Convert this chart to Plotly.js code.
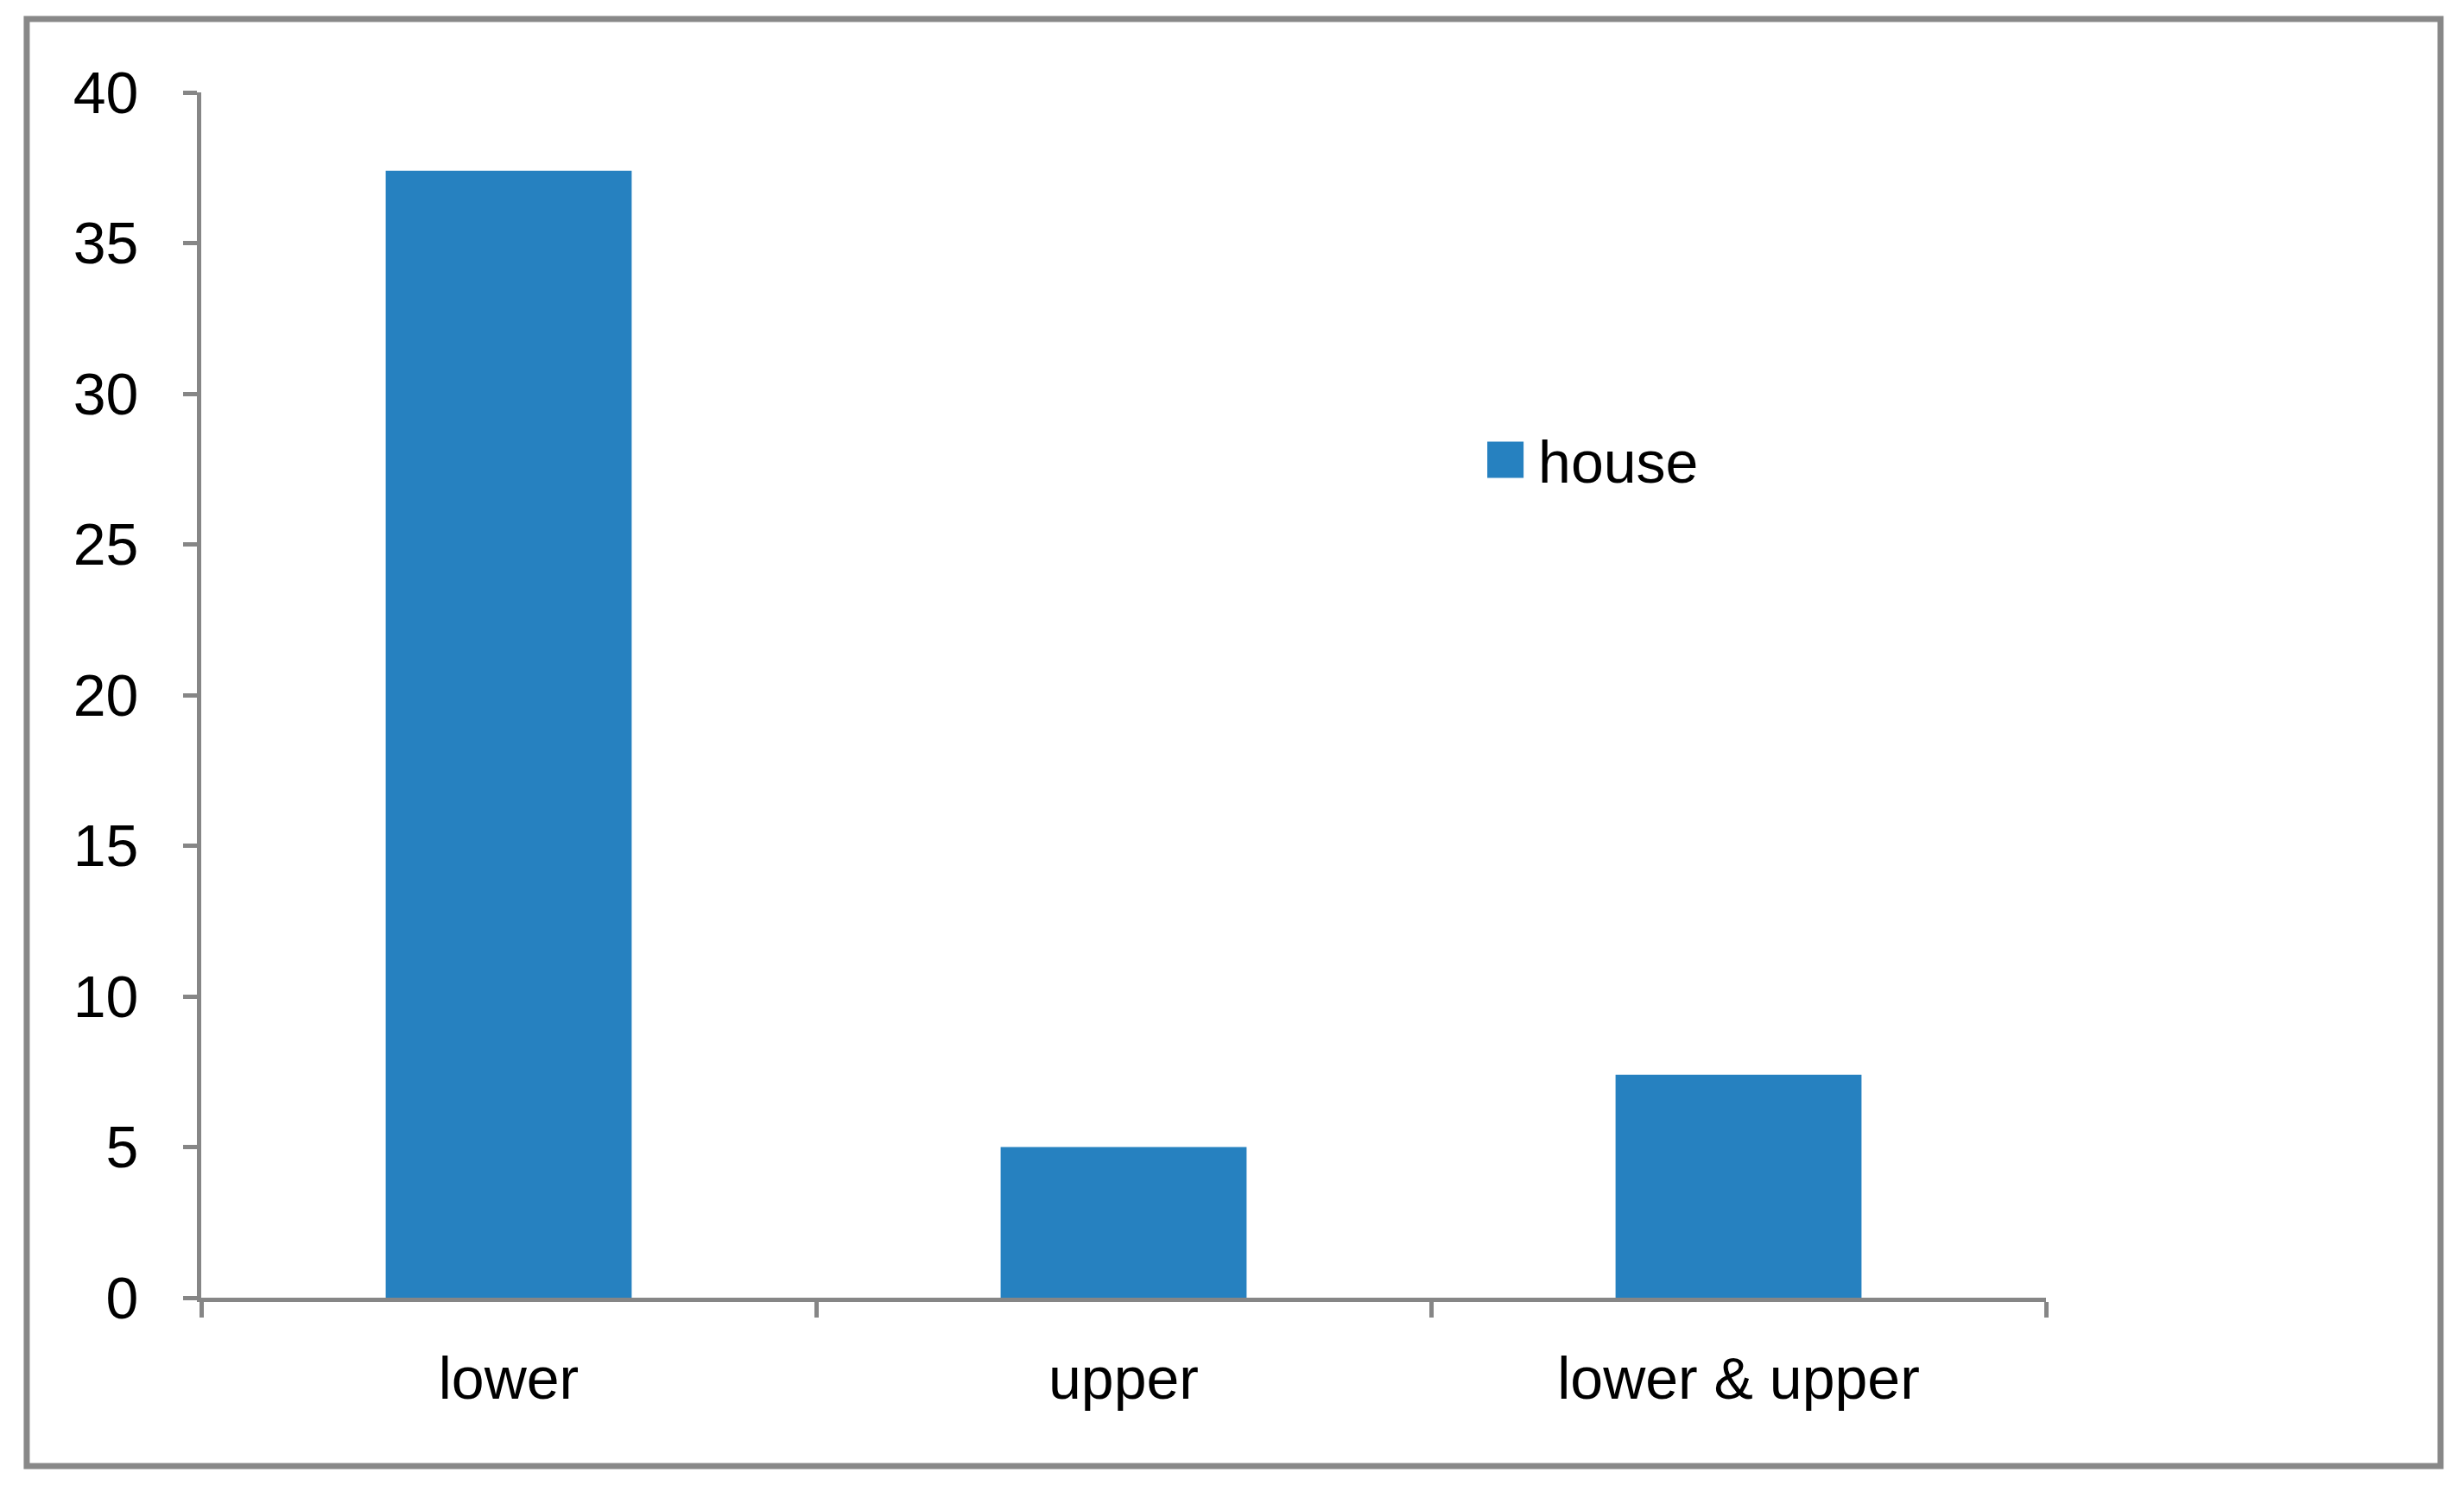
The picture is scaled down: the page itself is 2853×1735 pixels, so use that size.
<!DOCTYPE html>
<html>
<head>
<meta charset="utf-8">
<script src="https://cdn.plot.ly/plotly-3.0.1.min.js"></script>
<style>
  html, body { margin: 0; padding: 0; background: #fff; }
  #chart { width: 2853px; height: 1735px; }
</style>
</head>
<body>
<div id="chart"></div>
<script>
// categories and values
const categories = ['lower', 'upper', 'lower & upper'];
const houseValues = [37.4, 5.0, 7.4];
const seriesName = 'house';

const yTicks = [0, 5, 10, 15, 20, 25, 30, 35, 40];

const barColor = '#2681c0';
const axisGray = '#868686';
const fontFamily = '"Liberation Sans", Arial, sans-serif';

const trace = {
  x: categories,
  y: houseValues,
  name: seriesName,
  type: 'bar',
  marker: { color: barColor },
  hoverinfo: 'x+y'
};

const layout = {
  width: 2853,
  height: 1735,
  margin: { l: 233, r: 484, t: 107, b: 232 },
  paper_bgcolor: '#ffffff',
  plot_bgcolor: '#ffffff',
  font: { family: fontFamily, size: 68, color: '#000' },
  bargap: 0.6,
  showlegend: true,
  legend: {
    x: 0.692, y: 0.695,
    xanchor: 'left', yanchor: 'middle',
    bgcolor: 'rgba(0,0,0,0)',
    font: { family: fontFamily, size: 68, color: '#000' },
    itemwidth: 60
  },
  xaxis: {
    type: 'category',
    range: [-0.5, 2.5],
    showgrid: false,
    zeroline: false,
    showline: true,
    linecolor: axisGray,
    linewidth: 5,
    ticks: 'outside',
    tickson: 'boundaries',
    ticklen: 18,
    tickwidth: 5,
    tickcolor: axisGray,
    tickfont: { family: fontFamily, size: 68, color: '#000' },
    ticklabelstandoff: 30,
    fixedrange: true
  },
  yaxis: {
    range: [0, 40],
    tickvals: yTicks,
    showgrid: false,
    zeroline: false,
    showline: true,
    linecolor: axisGray,
    linewidth: 5,
    ticks: 'outside',
    ticklen: 16,
    tickwidth: 5,
    tickcolor: axisGray,
    tickfont: { family: fontFamily, size: 68, color: '#000' },
    ticklabelstandoff: 38,
    fixedrange: true
  },
  shapes: [{
    // outer chart frame
    type: 'rect', xref: 'paper', yref: 'paper',
    x0: -0.0946, x1: 1.2139, y0: -0.1397, y1: 1.0609,
    line: { color: '#888888', width: 7 },
    fillcolor: 'rgba(0,0,0,0)',
    layer: 'below'
  }]
};

Plotly.newPlot('chart', [trace], layout, { displayModeBar: false, staticPlot: true }).then(function (gd) {
  // the legend key in the original is a big square, plotly draws 12px
  gd.querySelectorAll('.legend .legendpoints path').forEach(function (p) {
    p.setAttribute('transform', 'translate(32,0) scale(3.5)');
  });
});
</script>
</body>
</html>
